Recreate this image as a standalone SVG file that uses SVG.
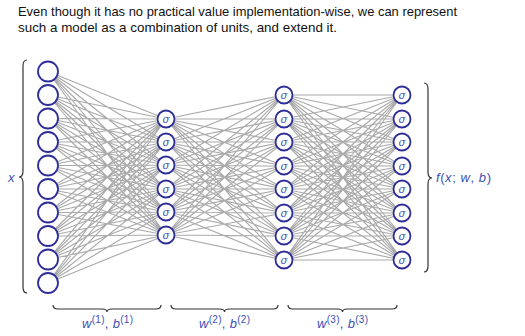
<svg xmlns="http://www.w3.org/2000/svg" width="525" height="336" viewBox="0 0 525 336">
<style>
.t{font-family:"Liberation Sans",Arial,sans-serif;font-size:13.5px;fill:#111}
.e{stroke:#aaa;stroke-width:1.15;fill:none}
.n{fill:#fff;stroke:#2e2e98;stroke-width:1.8}
.s{font-family:"DejaVu Serif","Liberation Serif",serif;font-style:italic;font-size:10.5px;fill:#4455bb;text-anchor:middle}
.m{font-family:"Liberation Sans",Arial,sans-serif;font-size:13px;fill:#3e4fb5}
.i{font-style:italic}
.b{fill:none;stroke:#333;stroke-width:1.2}
</style>
<text class="t" x="18" y="16" textLength="439" lengthAdjust="spacingAndGlyphs">Even though it has no practical value implementation-wise, we can represent</text>
<text class="t" x="18" y="32" textLength="319" lengthAdjust="spacingAndGlyphs">such a model as a combination of units, and extend it.</text>
<g id="connectors">
<path class="e" d="M48 71.5L166 119M48 71.5L166 142M48 71.5L166 165M48 71.5L166 189M48 71.5L166 212M48 71.5L166 235
M48 95L166 119M48 95L166 142M48 95L166 165M48 95L166 189M48 95L166 212M48 95L166 235
M48 118.5L166 119M48 118.5L166 142M48 118.5L166 165M48 118.5L166 189M48 118.5L166 212M48 118.5L166 235
M48 142L166 119M48 142L166 142M48 142L166 165M48 142L166 189M48 142L166 212M48 142L166 235
M48 165.5L166 119M48 165.5L166 142M48 165.5L166 165M48 165.5L166 189M48 165.5L166 212M48 165.5L166 235
M48 189L166 119M48 189L166 142M48 189L166 165M48 189L166 189M48 189L166 212M48 189L166 235
M48 212.5L166 119M48 212.5L166 142M48 212.5L166 165M48 212.5L166 189M48 212.5L166 212M48 212.5L166 235
M48 236L166 119M48 236L166 142M48 236L166 165M48 236L166 189M48 236L166 212M48 236L166 235
M48 259.5L166 119M48 259.5L166 142M48 259.5L166 165M48 259.5L166 189M48 259.5L166 212M48 259.5L166 235
M48 283L166 119M48 283L166 142M48 283L166 165M48 283L166 189M48 283L166 212M48 283L166 235"/>
<path class="e" d="M166 119L284 95M166 119L284 119M166 119L284 142M166 119L284 166M166 119L284 189M166 119L284 213M166 119L284 236M166 119L284 260
M166 142L284 95M166 142L284 119M166 142L284 142M166 142L284 166M166 142L284 189M166 142L284 213M166 142L284 236M166 142L284 260
M166 165L284 95M166 165L284 119M166 165L284 142M166 165L284 166M166 165L284 189M166 165L284 213M166 165L284 236M166 165L284 260
M166 189L284 95M166 189L284 119M166 189L284 142M166 189L284 166M166 189L284 189M166 189L284 213M166 189L284 236M166 189L284 260
M166 212L284 95M166 212L284 119M166 212L284 142M166 212L284 166M166 212L284 189M166 212L284 213M166 212L284 236M166 212L284 260
M166 235L284 95M166 235L284 119M166 235L284 142M166 235L284 166M166 235L284 189M166 235L284 213M166 235L284 236M166 235L284 260"/>
<path class="e" d="M284 95L402 95M284 95L402 119M284 95L402 142M284 95L402 166M284 95L402 189M284 95L402 213M284 95L402 236M284 95L402 260
M284 119L402 95M284 119L402 119M284 119L402 142M284 119L402 166M284 119L402 189M284 119L402 213M284 119L402 236M284 119L402 260
M284 142L402 95M284 142L402 119M284 142L402 142M284 142L402 166M284 142L402 189M284 142L402 213M284 142L402 236M284 142L402 260
M284 166L402 95M284 166L402 119M284 166L402 142M284 166L402 166M284 166L402 189M284 166L402 213M284 166L402 236M284 166L402 260
M284 189L402 95M284 189L402 119M284 189L402 142M284 189L402 166M284 189L402 189M284 189L402 213M284 189L402 236M284 189L402 260
M284 213L402 95M284 213L402 119M284 213L402 142M284 213L402 166M284 213L402 189M284 213L402 213M284 213L402 236M284 213L402 260
M284 236L402 95M284 236L402 119M284 236L402 142M284 236L402 166M284 236L402 189M284 236L402 213M284 236L402 236M284 236L402 260
M284 260L402 95M284 260L402 119M284 260L402 142M284 260L402 166M284 260L402 189M284 260L402 213M284 260L402 236M284 260L402 260"/>
</g>
<g id="input">
<circle class="n" cx="48" cy="71.5" r="10"/><circle class="n" cx="48" cy="95" r="10"/><circle class="n" cx="48" cy="118.5" r="10"/><circle class="n" cx="48" cy="142" r="10"/><circle class="n" cx="48" cy="165.5" r="10"/><circle class="n" cx="48" cy="189" r="10"/><circle class="n" cx="48" cy="212.5" r="10"/><circle class="n" cx="48" cy="236" r="10"/><circle class="n" cx="48" cy="259.5" r="10"/><circle class="n" cx="48" cy="283" r="10"/>
</g>
<g id="hidden1">
<circle class="n" cx="166" cy="119" r="8.5"/><circle class="n" cx="166" cy="142" r="8.5"/><circle class="n" cx="166" cy="165" r="8.5"/><circle class="n" cx="166" cy="189" r="8.5"/><circle class="n" cx="166" cy="212" r="8.5"/><circle class="n" cx="166" cy="235" r="8.5"/>
<text class="s" x="166" y="122.5">σ</text><text class="s" x="166" y="145.5">σ</text><text class="s" x="166" y="168.5">σ</text><text class="s" x="166" y="192.5">σ</text><text class="s" x="166" y="215.5">σ</text><text class="s" x="166" y="238.5">σ</text>
</g>
<g id="hidden2">
<circle class="n" cx="284" cy="95" r="8.5"/><circle class="n" cx="284" cy="119" r="8.5"/><circle class="n" cx="284" cy="142" r="8.5"/><circle class="n" cx="284" cy="166" r="8.5"/><circle class="n" cx="284" cy="189" r="8.5"/><circle class="n" cx="284" cy="213" r="8.5"/><circle class="n" cx="284" cy="236" r="8.5"/><circle class="n" cx="284" cy="260" r="8.5"/>
<text class="s" x="284" y="98.5">σ</text><text class="s" x="284" y="122.5">σ</text><text class="s" x="284" y="145.5">σ</text><text class="s" x="284" y="169.5">σ</text><text class="s" x="284" y="192.5">σ</text><text class="s" x="284" y="216.5">σ</text><text class="s" x="284" y="239.5">σ</text><text class="s" x="284" y="263.5">σ</text>
</g>
<g id="output">
<circle class="n" cx="402" cy="95" r="8.5"/><circle class="n" cx="402" cy="119" r="8.5"/><circle class="n" cx="402" cy="142" r="8.5"/><circle class="n" cx="402" cy="166" r="8.5"/><circle class="n" cx="402" cy="189" r="8.5"/><circle class="n" cx="402" cy="213" r="8.5"/><circle class="n" cx="402" cy="236" r="8.5"/><circle class="n" cx="402" cy="260" r="8.5"/>
<text class="s" x="402" y="98.5">σ</text><text class="s" x="402" y="122.5">σ</text><text class="s" x="402" y="145.5">σ</text><text class="s" x="402" y="169.5">σ</text><text class="s" x="402" y="192.5">σ</text><text class="s" x="402" y="216.5">σ</text><text class="s" x="402" y="239.5">σ</text><text class="s" x="402" y="263.5">σ</text>
</g>
<g id="input-brace">
<path class="b" d="M27 60Q23 60 23 66L23 171Q23 177 19 177Q23 177 23 183L23 287Q23 293 27 293"/>
<text class="m i" x="8" y="182">x</text>
</g>
<g id="output-brace">
<path class="b" d="M424 83Q428 83 428 89L428 172Q428 178 432 178Q428 178 428 184L428 266Q428 272 424 272"/>
<text class="m" x="436" y="182" textLength="55" lengthAdjust="spacing"><tspan class="i">f</tspan>(<tspan class="i">x</tspan>; <tspan class="i">w</tspan>, <tspan class="i">b</tspan>)</text>
</g>
<g id="w1">
<path class="b" d="M53 305Q53 309 58 309L102 309Q107 309 107 312Q107 309 112 309L156 309Q161 309 161 305"/>
<text class="m" x="82" y="328" textLength="51" lengthAdjust="spacing"><tspan class="i">w</tspan><tspan font-size="10" dy="-5">(1)</tspan><tspan dy="5">, </tspan><tspan class="i">b</tspan><tspan font-size="10" dy="-5">(1)</tspan></text>
</g>
<g id="w2">
<path class="b" d="M171 305Q171 309 176 309L219.5 309Q224.5 309 224.5 312Q224.5 309 229.5 309L273 309Q278 309 278 305"/>
<text class="m" x="199" y="328" textLength="51" lengthAdjust="spacing"><tspan class="i">w</tspan><tspan font-size="10" dy="-5">(2)</tspan><tspan dy="5">, </tspan><tspan class="i">b</tspan><tspan font-size="10" dy="-5">(2)</tspan></text>
</g>
<g id="w3">
<path class="b" d="M288 305Q288 309 293 309L337.5 309Q342.5 309 342.5 312Q342.5 309 347.5 309L392 309Q397 309 397 305"/>
<text class="m" x="317" y="328" textLength="51" lengthAdjust="spacing"><tspan class="i">w</tspan><tspan font-size="10" dy="-5">(3)</tspan><tspan dy="5">, </tspan><tspan class="i">b</tspan><tspan font-size="10" dy="-5">(3)</tspan></text>
</g>
</svg>
